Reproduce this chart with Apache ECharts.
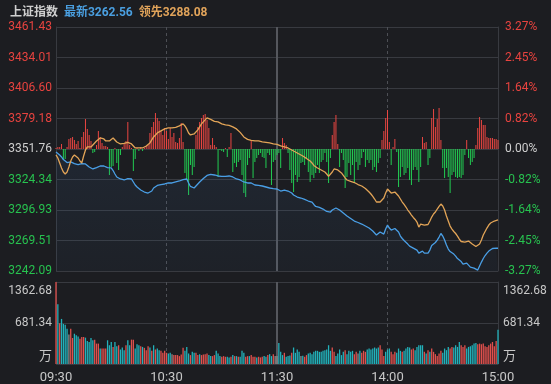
<!DOCTYPE html>
<html><head><meta charset="utf-8">
<script src="https://cdn.jsdelivr.net/npm/echarts@6/dist/echarts.min.js"></script>
<style>html,body{margin:0;padding:0;background:#1c1d21;}#c{width:551px;height:384px;}</style>
</head><body><div id="c"></div>
<script>
const leftLabels = ['3242.09','3269.51','3296.93','3324.34','3351.76','3379.18','3406.60','3434.01','3461.43'];
const rightLabels = ['-3.27%','-2.45%','-1.64%','-0.82%','0.00%','0.82%','1.64%','2.45%','3.27%'];
const volLabels = ['万','681.34','1362.68'];
const timeTicks = ['09:30','10:30','11:30','14:00','15:00'];

const price = [
3349.1,3347.7,3346.4,3344.6,3342.3,3341.0,3339.6,3339.2,3340.1,3340.1,
3338.7,3338.3,3337.8,3338.3,3338.7,3339.2,3338.3,3337.4,3335.6,3334.2,
3333.8,3334.2,3335.1,3336.5,3336.5,3336.0,3336.5,3336.0,3335.1,3334.7,
3334.7,3332.4,3329.3,3326.6,3325.7,3324.8,3323.9,3323.9,3324.3,3325.2,
3325.7,3324.8,3322.1,3319.4,3317.6,3316.2,3314.9,3314.0,3313.1,3312.6,
3312.2,3312.6,3314.0,3316.7,3318.1,3319.0,3319.4,3319.8,3320.3,3320.3,
3321.2,3321.2,3321.2,3321.2,3321.6,3322.1,3322.1,3323.0,3323.5,3324.3,
3325.2,3324.8,3321.2,3318.1,3317.2,3316.7,3318.5,3320.3,3322.1,3323.0,
3325.2,3326.6,3328.0,3329.3,3328.9,3328.4,3328.4,3328.0,3327.5,3327.5,
3327.1,3326.6,3327.1,3327.5,3327.5,3327.5,3326.6,3325.2,3324.8,3324.3,
3323.9,3323.0,3322.1,3321.2,3321.2,3321.2,3321.2,3320.3,3319.4,3319.4,
3319.0,3318.5,3318.5,3318.1,3317.6,3317.2,3316.7,3316.7,3316.2,3315.8,
3315.8,3315.8,3314.0,3313.1,3314.9,3315.8,3314.0,3312.6,3312.2,3310.4,
3309.1,3308.6,3308.2,3307.7,3306.8,3306.4,3305.9,3305.0,3304.6,3304.1,
3301.9,3300.1,3299.6,3299.2,3298.7,3297.8,3296.5,3295.6,3294.2,3295.1,
3296.9,3298.3,3298.7,3297.8,3296.9,3295.6,3294.2,3292.9,3291.5,3290.6,
3289.3,3287.9,3287.0,3286.1,3285.7,3284.8,3284.3,3283.9,3282.5,3281.6,
3280.7,3279.4,3278.0,3276.2,3274.4,3275.3,3277.1,3276.7,3275.3,3279.8,
3283.4,3280.7,3278.9,3279.8,3280.3,3280.7,3277.1,3273.5,3271.3,3269.5,
3268.1,3266.3,3264.5,3263.2,3262.7,3262.7,3260.9,3258.2,3259.6,3260.0,
3258.2,3257.3,3258.2,3260.9,3265.0,3266.3,3267.7,3269.9,3272.6,3275.8,
3273.5,3269.9,3265.4,3261.8,3259.6,3258.2,3257.3,3255.5,3253.3,3251.9,
3250.6,3248.3,3247.9,3249.2,3247.4,3245.6,3245.2,3244.7,3243.4,3242.9,
3246.5,3250.1,3253.3,3256.0,3258.2,3260.0,3261.4,3262.3,3262.7,3262.7,3262.56
];

const lead = [
3346.4,3343.7,3339.2,3334.7,3331.1,3329.3,3331.1,3335.6,3341.0,3344.6,
3346.4,3345.5,3343.7,3341.0,3339.2,3345.5,3350.9,3353.6,3353.2,3353.6,
3355.4,3357.2,3359.0,3360.4,3361.7,3361.7,3360.8,3359.0,3358.1,3359.0,
3359.9,3361.7,3360.8,3358.1,3356.8,3356.3,3357.2,3356.8,3356.3,3357.7,
3358.1,3356.3,3354.5,3352.7,3352.2,3352.7,3352.7,3352.7,3353.6,3354.5,
3355.4,3357.2,3359.9,3362.6,3364.4,3366.2,3367.1,3368.0,3368.9,3369.8,
3370.3,3370.7,3370.7,3370.7,3371.2,3371.2,3371.6,3372.5,3373.9,3374.3,
3372.5,3369.8,3366.2,3364.4,3364.4,3365.3,3366.2,3368.9,3371.6,3374.3,
3376.1,3377.9,3379.7,3379.3,3378.4,3377.0,3376.6,3376.1,3376.1,3375.2,
3374.3,3373.9,3373.4,3373.4,3373.0,3372.5,3371.6,3370.7,3369.8,3368.5,
3366.7,3365.3,3362.6,3361.3,3360.4,3359.9,3359.5,3359.0,3359.0,3359.0,
3359.0,3358.6,3358.1,3358.1,3357.7,3357.2,3357.2,3356.8,3356.3,3356.3,
3355.9,3355.4,3354.5,3354.1,3353.6,3353.6,3352.7,3351.8,3350.9,3350.0,
3349.1,3348.2,3347.3,3346.4,3345.5,3344.6,3343.3,3341.9,3341.0,3339.2,
3337.0,3335.6,3334.7,3333.8,3332.9,3332.0,3331.1,3329.3,3327.1,3328.4,
3331.1,3333.8,3334.7,3332.9,3331.6,3330.2,3328.0,3325.7,3323.9,3323.0,
3322.6,3322.1,3321.6,3320.8,3319.8,3319.4,3318.5,3317.6,3316.2,3314.9,
3313.1,3311.3,3309.1,3306.8,3304.1,3303.2,3304.1,3305.4,3307.7,3312.2,
3315.8,3314.0,3312.2,3312.6,3313.1,3312.6,3309.5,3306.8,3304.1,3301.9,
3299.6,3296.9,3294.7,3292.4,3290.2,3288.4,3286.1,3281.6,3284.3,3285.2,
3283.4,3283.0,3283.9,3287.0,3290.6,3293.3,3295.1,3297.8,3300.1,3302.3,
3300.5,3296.9,3291.5,3287.0,3282.5,3279.8,3277.6,3275.8,3273.5,3270.8,
3268.6,3268.1,3268.1,3268.6,3269.0,3267.7,3266.3,3265.0,3264.1,3263.6,
3266.3,3269.9,3274.4,3277.6,3280.7,3283.4,3285.2,3286.6,3287.0,3287.5,3288.08
];

const strength = [
1,2,2,5,-10,-10,2,10,11,12,
9,5,8,1,12,17,30,20,14,8,
-4,-3,4,18,12,6,3,3,2,-26,
-18,-17,1,-14,-21,-6,2,5,8,27,
4,1,-22,-10,1,-2,2,-2,1,3,
4,16,22,27,36,31,28,18,14,21,
18,10,21,12,16,7,6,11,26,7,
-24,-31,-46,-16,-26,-18,14,22,27,31,
34,35,29,21,4,11,4,2,-28,-1,
-2,-3,1,-8,2,16,-23,-14,-18,-13,
-11,-26,-44,-48,-16,-9,9,-29,-13,-9,
-6,-4,-8,-9,-19,-4,-6,-36,-13,-11,
-6,-4,-19,11,6,4,-4,-21,-34,-43,
-26,-33,-28,-14,-13,-16,-9,-23,-33,-26,
-29,-24,-16,-24,-13,-11,-4,-13,-34,-9,
14,27,34,5,-18,-4,-11,-39,-28,-14,
-26,-16,-33,-13,-21,-16,-9,-3,-18,-11,
-14,-11,-21,-18,-23,-14,-9,9,18,31,
39,7,-16,2,10,-3,-38,-28,-18,-26,
-24,-19,-31,-36,-21,-18,-21,-33,-18,12,
6,7,-16,-9,31,40,22,30,41,9,
-19,-29,-19,-28,-44,-26,-23,-28,-29,-28,
-29,-26,-6,9,-9,-16,-13,-9,4,21,
32,29,24,24,12,11,11,11,10,10,9
];

const volume = [
1362.68,
995,678,749,667,651,585,492,585,432,503,
476,459,421,449,449,438,383,366,432,394,
405,339,339,257,257,257,257,394,312,366,
284,366,295,312,241,274,230,312,394,312,
405,405,257,328,312,295,284,268,230,295,
274,219,312,241,257,230,219,186,219,186,
175,186,164,148,148,148,131,159,268,219,
284,175,148,202,186,186,148,164,148,159,
164,175,148,131,131,148,219,175,131,120,
131,120,120,109,120,148,131,131,120,120,
219,186,120,131,131,148,120,120,109,120,
109,120,131,120,148,164,131,164,131,131,
350,202,148,186,120,131,142,186,274,186,
241,202,131,137,120,148,175,186,164,202,
219,219,202,202,219,230,241,312,219,274,
202,131,175,241,148,202,230,164,219,202,
219,164,202,175,219,186,219,202,241,257,
241,257,274,257,274,312,241,131,202,241,
257,202,164,202,186,257,219,202,219,257,
284,274,241,257,230,284,312,312,312,202,
175,230,202,257,202,164,131,175,219,186,
257,230,284,257,284,274,312,284,366,312,
284,312,257,284,295,312,339,350,328,339,
328,339,295,284,312,339,366,295,383,569
];

const volDir = [
1,
-1,1,-1,-1,-1,-1,0,1,1,-1,
-1,-1,1,1,1,-1,-1,-1,-1,-1,
1,1,1,-1,1,1,1,-1,-1,-1,
1,-1,-1,1,-1,-1,-1,1,-1,-1,
1,1,-1,-1,-1,1,-1,1,1,1,
-1,1,-1,1,-1,-1,1,1,1,1,
-1,-1,0,1,1,1,1,1,1,-1,
-1,-1,1,-1,-1,1,1,-1,1,1,
1,1,-1,-1,1,1,-1,-1,-1,1,
1,1,-1,-1,1,-1,1,-1,1,-1,
-1,-1,1,1,-1,1,1,1,-1,1,
1,1,-1,-1,1,-1,-1,1,0,0,
-1,-1,-1,1,-1,-1,-1,1,-1,-1,
-1,-1,0,-1,1,1,-1,-1,-1,-1,
-1,-1,-1,-1,-1,-1,-1,-1,-1,1,
1,-1,-1,-1,-1,-1,1,-1,-1,-1,
-1,1,1,0,-1,1,1,1,-1,-1,
-1,-1,-1,-1,-1,1,1,1,-1,-1,
-1,1,1,1,-1,-1,-1,1,-1,-1,
-1,-1,1,1,-1,-1,-1,-1,-1,1,
-1,1,-1,1,1,1,1,1,1,-1,
-1,-1,-1,1,1,-1,-1,-1,-1,1,
1,1,-1,-1,-1,-1,-1,-1,1,1,
1,1,1,1,1,1,1,1,1,-1
];

// minute categories 09:30-11:30, 13:01-15:00
const times = [];
function hm(t){const h=Math.floor(t/60),m=t%60;return (h<10?'0':'')+h+':'+(m<10?'0':'')+m;}
for(let m=0;m<=120;m++) times.push(hm(570+m));
for(let m=1;m<=120;m++) times.push(hm(780+m));

const prevClose = parseFloat(leftLabels[4]);
const unit = (parseFloat(leftLabels[8]) - prevClose) / 4;
const volUnit = parseFloat(volLabels[1]);

const RED='#e8433f', GREEN='#27c24f', NEU='#cfcfcf';
const GRIDC='#383a40';
const FONT='Roboto, "Noto Sans CJK SC", sans-serif';

const chart = echarts.init(document.getElementById('c'), null, {renderer:'canvas'});
const labelColor = (v)=>{const k=Math.round(v); return k>0?RED:(k<0?GREEN:NEU);};
const volFmt = (v)=>{const k=Math.round(v); return k===2?'{t|'+volLabels[2]+'}':(k===0?'{b|'+volLabels[0]+'}':volLabels[k]);};
const volRich = {t:{padding:[17,0,0,0],fontSize:12,fontFamily:FONT,color:'#c8c8c8'},
                 b:{padding:[0,0,14,0],fontSize:13,fontFamily:FONT,color:'#c8c8c8'}};

chart.setOption({
  animation:false,
  backgroundColor:'#1c1d21',
  title:{
    left:5, top:2,
    text:'{a|上证指数}  {b|最新'+price[price.length-1].toFixed(2)+'}  {c|领先'+lead[lead.length-1].toFixed(2)+'}',
    textStyle:{fontFamily:FONT, fontSize:12, rich:{
      a:{color:'#cfcfcf',fontSize:12,fontFamily:FONT},
      b:{color:'#4a9fe0',fontSize:12,fontFamily:FONT},
      c:{color:'#e0a35a',fontSize:12,fontFamily:FONT}
    }}
  },
  grid:[
    {left:56, right:53, top:27, height:244},
    {left:56, right:53, top:282, height:83}
  ],
  xAxis:[
    {type:'category', gridIndex:0, data:times, boundaryGap:false,
     axisLine:{show:false}, axisTick:{show:false}, axisLabel:{show:false},
     splitLine:{show:true, interval:(i)=>i===60||i===180, lineStyle:{color:'#4d4f55', type:[3,3], width:1}}},
    {type:'category', gridIndex:0, data:times, boundaryGap:false, position:'bottom',
     axisLine:{show:false}, axisTick:{show:false}, axisLabel:{show:false},
     splitLine:{show:true, interval:(i)=>i===120, lineStyle:{color:'#55575d', width:2}}},
    {type:'category', gridIndex:1, data:times, boundaryGap:false,
     axisLine:{show:false}, axisTick:{show:false},
     axisLabel:{interval:(i)=>i%60===0, color:'#c8c8c8', fontSize:13, fontFamily:FONT, margin:7,
       formatter:(v,i)=>timeTicks[Math.round(i/60)]},
     splitLine:{show:true, interval:(i)=>i===60||i===180, lineStyle:{color:'#4d4f55', type:[3,3], width:1}}},
    {type:'category', gridIndex:1, data:times, boundaryGap:false, position:'bottom',
     axisLine:{show:false}, axisTick:{show:false}, axisLabel:{show:false},
     splitLine:{show:true, interval:(i)=>i===120, lineStyle:{color:'#55575d', width:2}}}
  ],
  yAxis:[
    {type:'value', gridIndex:0, position:'left', min:-4, max:4, interval:1,
     axisLine:{show:true, lineStyle:{color:GRIDC}}, axisTick:{show:false},
     axisLabel:{margin:4, fontSize:12, fontFamily:FONT, color:labelColor,
       formatter:(v)=>leftLabels[Math.round(v)+4]},
     splitLine:{show:true, lineStyle:{color:GRIDC}}},
    {type:'value', gridIndex:0, position:'right', min:-4, max:4, interval:1,
     axisLine:{show:true, lineStyle:{color:GRIDC}}, axisTick:{show:false},
     axisLabel:{margin:7, fontSize:12, fontFamily:FONT, color:labelColor,
       formatter:(v)=>rightLabels[Math.round(v)+4]},
     splitLine:{show:false}},
    {type:'value', gridIndex:0, show:false, min:-122, max:122},
    {type:'value', gridIndex:1, position:'left', min:0, max:2, interval:1,
     axisLine:{show:true, lineStyle:{color:GRIDC}}, axisTick:{show:false},
     axisLabel:{margin:4, fontSize:12, fontFamily:FONT, color:'#c8c8c8', formatter:volFmt, rich:volRich},
     splitLine:{show:true, lineStyle:{color:GRIDC}}},
    {type:'value', gridIndex:1, position:'right', min:0, max:2, interval:1,
     axisLine:{show:true, lineStyle:{color:GRIDC}}, axisTick:{show:false},
     axisLabel:{margin:5, fontSize:12, fontFamily:FONT, color:'#c8c8c8', formatter:volFmt, rich:volRich},
     splitLine:{show:false}}
  ],
  series:[
    {type:'bar', xAxisIndex:0, yAxisIndex:2, barWidth:1, z:2,
     data:strength.map(v=>({value:v, itemStyle:{color:v>=0?'#ea4642':'#22cc52'}}))},
    {type:'line', xAxisIndex:0, yAxisIndex:0, z:4, showSymbol:false, symbol:'none',
     data:price.map(p=>(p-prevClose)/unit),
     lineStyle:{color:'#4a9fe6', width:1.3},
     areaStyle:{origin:'start', color:new echarts.graphic.LinearGradient(0,0,0,1,[
       {offset:0,color:'rgba(70,130,200,0.14)'},{offset:1,color:'rgba(70,130,200,0.06)'}])}},
    {type:'line', xAxisIndex:0, yAxisIndex:0, z:5, showSymbol:false, symbol:'none',
     data:lead.map(p=>(p-prevClose)/unit),
     lineStyle:{color:'#e2a457', width:1.3}},
    {type:'bar', xAxisIndex:2, yAxisIndex:3, barCategoryGap:'30%', z:2,
     data:volume.map((v,i)=>({value:v/volUnit, itemStyle:{color:volDir[i]>0?'#e0504d':(volDir[i]<0?'#22b2bb':'#8c8c8c')}}))}
  ]
});
</script>
</body></html>
